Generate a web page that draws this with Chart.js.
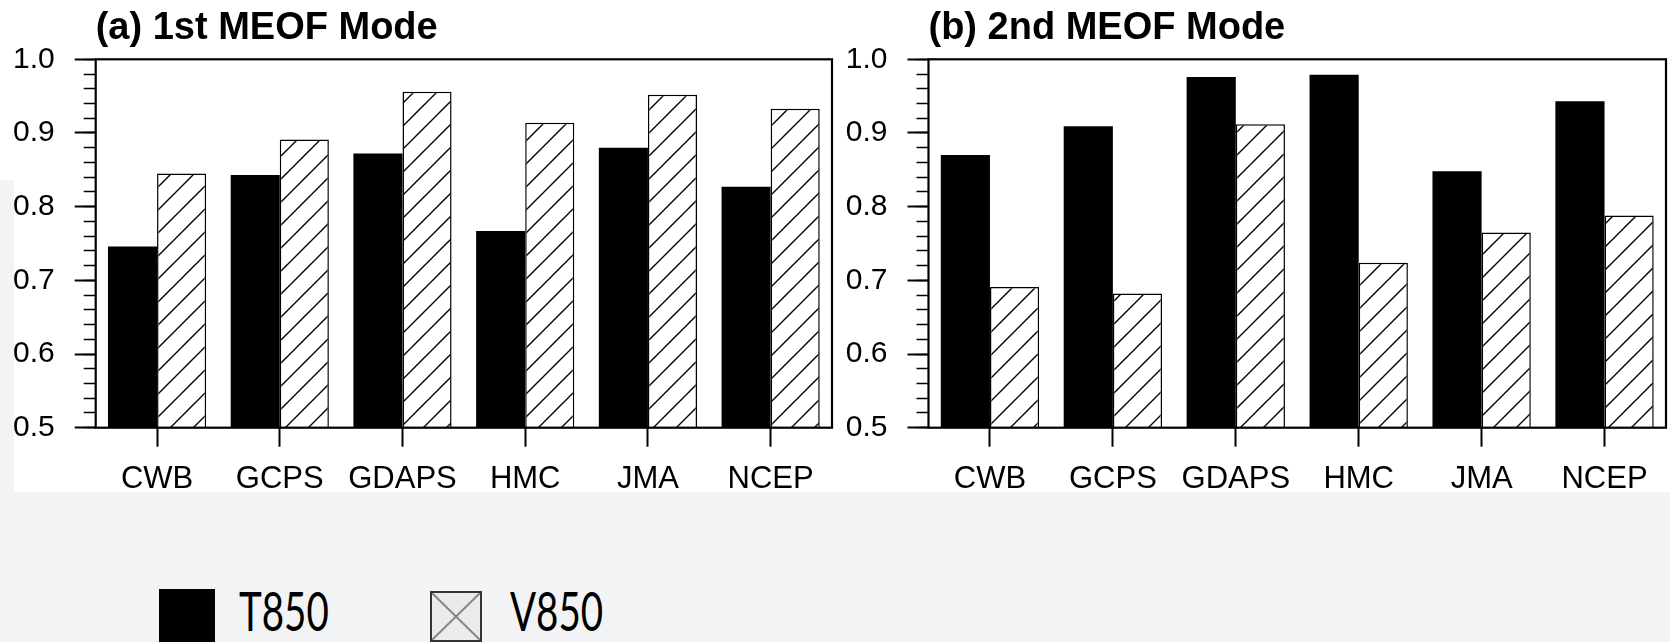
<!DOCTYPE html>
<html>
<head>
<meta charset="utf-8">
<script src="https://cdn.jsdelivr.net/npm/chart.js@4.4.1/dist/chart.umd.min.js"></script>
<style>
  html, body { margin: 0; padding: 0; }
  body { width: 1670px; height: 642px; background: #f2f3f5; position: relative; overflow: hidden; }
  .white { position: absolute; background: #fff; }
  canvas { position: absolute; top: 0; }
  #chartA { left: 0; }
  #chartB { left: 840px; }
  .key { position: absolute; box-sizing: border-box; }
  .keyText { position: absolute; font-family: Lato, "Open Sans", sans-serif; font-size: 55px; line-height: 1; color: #000; transform: scaleX(0.7); transform-origin: left top; white-space: nowrap; }
</style>
</head>
<body>
<div class="white" style="left:14px; top:0; width:1656px; height:492px;"></div>
<div class="white" style="left:0; top:0; width:14px; height:180px;"></div>
<canvas id="chartA" width="840" height="510"></canvas>
<canvas id="chartB" width="830" height="510"></canvas>

<div class="key" style="left:159px; top:589px; width:56px; height:60px; background:#000;"></div>
<div class="keyText" style="left:239px; top:583px;">T850</div>
<div class="key" id="vKey" style="left:430px; top:591px; width:52px; height:51px; background:#ebebeb; border:2px solid #333;">
  <svg width="48" height="47" style="position:absolute; left:0; top:0;">
    <line x1="0" y1="0" x2="48" y2="47" stroke="#888" stroke-width="2"/>
    <line x1="48" y1="0" x2="0" y2="47" stroke="#888" stroke-width="2"/>
  </svg>
</div>
<div class="keyText" style="left:510px; top:583px;">V850</div>

<script>
const categories = ["CWB", "GCPS", "GDAPS", "HMC", "JMA", "NCEP"];

// (a) 1st MEOF mode
const mode1T850 = [0.746, 0.843, 0.872, 0.767, 0.880, 0.827];
const mode1V850 = [0.845, 0.891, 0.956, 0.914, 0.952, 0.933];

// (b) 2nd MEOF mode
const mode2T850 = [0.870, 0.909, 0.976, 0.979, 0.848, 0.943];
const mode2V850 = [0.691, 0.682, 0.912, 0.724, 0.765, 0.788];

const yMin = 0.5;
const yMax = 1.0;
const majorStep = 0.1;
const minorStep = 0.02;

const FONT = "'Liberation Sans', Arial, Helvetica, sans-serif";

// diagonal hatch for the V850 bars
function makeHatch() {
  const s = 23;
  const c = document.createElement("canvas");
  c.width = s;
  c.height = s;
  const g = c.getContext("2d");
  g.fillStyle = "#fff";
  g.fillRect(0, 0, s, s);
  g.strokeStyle = "#000";
  g.lineWidth = 1.4;
  g.beginPath();
  g.moveTo(-2, 2); g.lineTo(2, -2);
  g.moveTo(0, s); g.lineTo(s, 0);
  g.moveTo(s - 2, s + 2); g.lineTo(s + 2, s - 2);
  g.stroke();
  return g.createPattern(c, "repeat");
}

const hatch = makeHatch();

// box round the plot area
const framePlugin = {
  id: "frame",
  afterDatasetsDraw(chart) {
    const { ctx, chartArea: a } = chart;
    ctx.save();
    ctx.strokeStyle = "#000";
    ctx.lineWidth = 2.2;
    ctx.strokeRect(a.left, a.top, a.right - a.left, a.bottom - a.top);
    ctx.restore();
  }
};

function makeChart(id, title, tValues, vValues, axisWidth, padRight) {
  const ctx = document.getElementById(id).getContext("2d");
  return new Chart(ctx, {
    type: "bar",
    data: {
      labels: categories,
      datasets: [
        {
          label: "T850",
          data: tValues,
          backgroundColor: "#000",
          borderColor: "#000",
          borderWidth: 0,
          categoryPercentage: 0.8,
          barPercentage: 1.0
        },
        {
          label: "V850",
          data: vValues,
          backgroundColor: hatch,
          borderColor: "#000",
          borderWidth: 1.5,
          categoryPercentage: 0.8,
          barPercentage: 1.0
        }
      ]
    },
    options: {
      responsive: false,
      animation: false,
      devicePixelRatio: 1,
      layout: { padding: { left: 0, right: padRight, top: 0, bottom: 10 } },
      plugins: {
        legend: { display: false },
        tooltip: { enabled: false },
        title: {
          display: true,
          text: title,
          align: "start",
          fullSize: false,
          color: "#000",
          font: { family: FONT, size: 38, weight: "bold" },
          padding: { top: 6, bottom: 7.7 }
        }
      },
      scales: {
        x: {
          offset: true,
          border: { display: false },
          grid: { offset: false, drawOnChartArea: false, tickLength: 19, tickWidth: 2, color: "#000" },
          ticks: { color: "#000", font: { family: FONT, size: 31 }, padding: 14.5, maxRotation: 0, autoSkip: false },
          afterFit: (s) => { s.height = 72.3; }
        },
        y: {
          min: yMin,
          max: yMax,
          weight: 1,
          border: { display: false },
          grid: { drawOnChartArea: false, tickLength: 21, tickWidth: 2, color: "#000" },
          ticks: {
            stepSize: majorStep,
            autoSkip: false,
            padding: 20,
            color: "#000",
            font: { family: FONT, size: 30 },
            callback: (v) => v.toFixed(1)
          },
          afterFit: (s) => { s.width = axisWidth; }
        },
        yMinor: {
          position: "left",
          min: yMin,
          max: yMax,
          weight: 0,
          border: { display: false },
          grid: { drawOnChartArea: false, tickLength: 12, tickWidth: 1.5, color: "#000" },
          ticks: { stepSize: minorStep, autoSkip: false, display: false },
          afterFit: (s) => { s.width = 0; }
        }
      }
    },
    plugins: [framePlugin]
  });
}

makeChart("chartA", "(a) 1st MEOF Mode", mode1T850, mode1V850, 95.7, 8);
makeChart("chartB", "(b) 2nd MEOF Mode", mode2T850, mode2V850, 88.5, 4);
</script>
</body>
</html>
